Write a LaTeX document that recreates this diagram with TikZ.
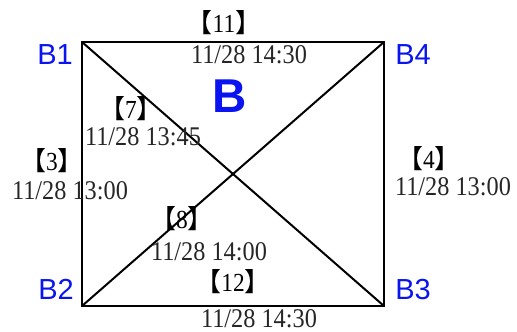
\documentclass[tikz,border=0pt]{standalone}
\usepackage{fontspec}
\setmainfont{Liberation Serif}
\newfontfamily\timefont[FakeStretch=0.9]{Liberation Serif}
\newfontfamily\labfont{Liberation Sans}
\newfontfamily\cjkfont{Noto Sans CJK TC}
\usepackage{xcolor}
\definecolor{lbl}{HTML}{0A14F0}
\usepackage{tikz}
\usetikzlibrary{positioning}
\newcommand{\bnum}[1]{{\cjkfont 【}#1{\cjkfont 】}}
\tikzset{
  edge/.style={draw=black,line width=2pt,line join=miter},
  corner/.style={font=\labfont\fontsize{29}{29}\selectfont,text=lbl,inner sep=0pt,anchor=base},
  big/.style={font=\labfont\bfseries\fontsize{47.5}{47.5}\selectfont,text=lbl,inner sep=0pt,anchor=base},
  tlab/.style={font=\timefont\fontsize{27}{27}\selectfont,text=black!85,inner sep=0pt,anchor=base},
  nlab/.style={font=\timefont\fontsize{26}{26}\selectfont,inner sep=0pt},
}

\begin{document}
\begin{tikzpicture}[x=1pt,y=-1pt]
\useasboundingbox (0,0) rectangle (517,332);
% corners of block B
\coordinate (b1) at (82,42);
\coordinate (b4) at (384,42);
\coordinate (b3) at (384,306);
\coordinate (b2) at (82,306);
\draw[edge] (b1) -- (b4) -- (b3) -- (b2) -- cycle;
\draw[edge] (b1) -- (b3);
\draw[edge] (b2) -- (b4);
% corner names
\node[corner] (nb1) at (55,64) {B1};
\node[corner] (nb4) at (413,64) {B4};
\node[corner] (nb2) at (56,299) {B2};
\node[corner] (nb3) at (413,299) {B3};
\node[big] (nb) at (230,112) {B};
% segment numbers and times
\node[nlab] (s11) at (224,23) {\bnum{11}};
\node[tlab] (t11) at (249,63) {11/28 14:30};
\node[nlab] (s7) at (131,109) {\bnum{7}};
\node[tlab] (t7) at (143,145) {11/28 13:45};
\node[nlab] (s3) at (52,161) {\bnum{3}};
\node[tlab] (t3) at (70,199) {11/28 13:00};
\node[nlab] (s4) at (429,159) {\bnum{4}};
\node[tlab] (t4) at (453,195) {11/28 13:00};
\node[nlab] (s8) at (182,219) {\bnum{8}};
\node[tlab] (t8) at (209,260) {11/28 14:00};
\node[nlab] (s12) at (233,282) {\bnum{12}};
\node[tlab] (t12) at (259,327) {11/28 14:30};
\end{tikzpicture}
\end{document}
